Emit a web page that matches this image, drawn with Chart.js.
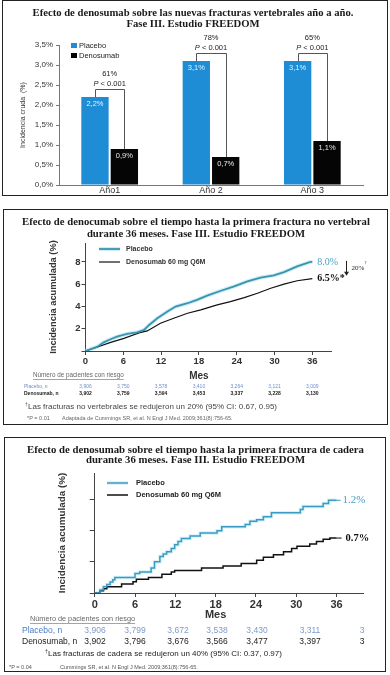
<!DOCTYPE html>
<html>
<head>
<meta charset="utf-8">
<script src="https://cdn.jsdelivr.net/npm/chart.js@4.4.1/dist/chart.umd.min.js"></script>
<style>
  html, body { margin: 0; padding: 0; background: #fff; }
  body { width: 390px; height: 675px; position: relative; overflow: hidden; }
  .panel { position: absolute; border: 1px solid #222; }
  .panel canvas { display: block; }
</style>
</head>
<body>
<div class="panel" style="left:2px; top:0px; width:384px; height:194px;"><canvas id="c1" width="384" height="194"></canvas></div>
<div class="panel" style="left:3px; top:209px; width:383px; height:214px;"><canvas id="c2" width="383" height="214"></canvas></div>
<div class="panel" style="left:4px; top:437px; width:380px; height:233px;"><canvas id="c3" width="380" height="233"></canvas></div>
<script>
// --- panel 1: vertebral fractures per year ---
const yearLabels = ['Año1', 'Año 2', 'Año 3'];
const yearPlacebo = [2.2, 3.1, 3.1];
const yearDenosumab = [0.9, 0.7, 1.1];
const yearReduction = ['61%', '78%', '65%'];
const yearPValue = ['< 0.001', '< 0.001', '< 0.001'];

// --- panel 2: time to first non-vertebral fracture ---
const nvPlaceboMonths = [0, 1.9, 2.9, 3.7, 5.0, 6.6, 8.2, 9.3, 10.1, 11.4, 13.0, 14.3, 16.2, 17.7, 19.3, 21.5, 23.6, 25.7, 27.8, 29.9, 31.5, 33.6, 35.7, 36];
const nvPlaceboValues = [0, 0.39, 0.78, 0.99, 1.29, 1.53, 1.68, 1.89, 2.34, 2.94, 3.54, 3.99, 4.29, 4.59, 4.98, 5.41, 5.8, 6.25, 6.6, 6.79, 7.09, 7.6, 8.0, 8.0];
const nvDenoMonths = [0, 1.9, 4.0, 6.1, 8.8, 9.8, 11.9, 14.0, 16.2, 18.3, 20.9, 23.0, 25.2, 27.3, 29.4, 31.5, 33.6, 36];
const nvDenoValues = [0, 0.36, 0.78, 1.14, 1.68, 1.8, 2.49, 2.94, 3.39, 3.69, 4.14, 4.44, 4.8, 5.19, 5.64, 6.0, 6.31, 6.5];
const nvTableMonths = [0, 6, 12, 18, 24, 30, 36];
const nvTablePlacebo = ['3,906', '3,750', '3,578', '3,410', '3,264', '3,121', '3,009'];
const nvTableDeno = ['3,902', '3,759', '3,594', '3,453', '3,337', '3,228', '3,130'];

// --- panel 3: time to first hip fracture (step curves) ---
const hipPlaceboMonths = [0, 0.4, 0.8, 1.3, 1.8, 2.3, 2.7, 3.0, 6.0, 6.7, 8.4, 8.9, 9.7, 10.2, 10.7, 11.4, 11.9, 12.4, 12.9, 14.2, 15.7, 18.2, 18.9, 22.4, 23.1, 24.1, 25.1, 26.3, 30.6, 31.0, 34.0, 34.8, 36.0];
const hipPlaceboValues = [0, 0, 0.04, 0.08, 0.11, 0.14, 0.17, 0.2, 0.25, 0.27, 0.32, 0.4, 0.47, 0.5, 0.53, 0.57, 0.62, 0.66, 0.7, 0.73, 0.77, 0.8, 0.85, 0.88, 0.92, 0.94, 0.98, 1.03, 1.07, 1.11, 1.15, 1.19, 1.19];
const hipDenoMonths = [0, 0.4, 0.8, 1.3, 1.8, 4.0, 5.7, 6.2, 8.0, 10.0, 11.4, 11.9, 15.9, 19.1, 21.8, 24.1, 25.1, 26.6, 28.1, 29.3, 30.1, 32.0, 33.0, 34.0, 35.0, 36.0];
const hipDenoValues = [0, 0, 0.03, 0.055, 0.08, 0.115, 0.145, 0.175, 0.2, 0.24, 0.27, 0.29, 0.32, 0.345, 0.38, 0.42, 0.46, 0.49, 0.53, 0.57, 0.6, 0.63, 0.66, 0.69, 0.705, 0.705];
const hipTablePlacebo = ['3,906', '3,799', '3,672', '3,538', '3,430', '3,311', '3'];
const hipTableDeno = ['3,902', '3,796', '3,676', '3,566', '3,477', '3,397', '3'];
const hipTableX = [90, 130, 173, 212, 252, 305, 357];

Chart.defaults.font.family = "'Liberation Sans', Arial, sans-serif";
Chart.defaults.color = '#333';

const SANS = "'Liberation Sans', Arial, sans-serif";
const SERIF = "'Liberation Serif', 'Times New Roman', serif";

function toPoints(months, values) {
    return months.map((m, i) => ({ x: m, y: values[i] }));
}

function pct(v) {
    return v.toFixed(1).replace('.', ',') + '%';
}

// size the serif title so line 1 spans the same width as the original
function drawTitle(ctx, lines, cx, y, lineGap, width) {
    ctx.font = 'bold 10px ' + SERIF;
    const size = 10 * width / ctx.measureText(lines[0]).width;
    ctx.font = 'bold ' + size.toFixed(2) + 'px ' + SERIF;
    ctx.fillStyle = '#1a1a1a';
    ctx.textAlign = 'center';
    ctx.textBaseline = 'middle';
    lines.forEach((t, i) => ctx.fillText(t, cx, y + i * lineGap));
}

function underlined(ctx, text, x, y) {
    ctx.fillText(text, x, y);
    const w = ctx.measureText(text).width;
    ctx.beginPath();
    ctx.moveTo(x, y + 4.5);
    ctx.lineTo(x + w, y + 4.5);
    ctx.lineWidth = 0.6;
    ctx.strokeStyle = ctx.fillStyle;
    ctx.stroke();
}

const yearNotes = {
    id: 'yearNotes',
    afterDraw(chart) {
        const ctx = chart.ctx;
        const area = chart.chartArea;
        const pl = chart.getDatasetMeta(0).data;
        const de = chart.getDatasetMeta(1).data;
        ctx.save();
        drawTitle(ctx, ['Efecto de denosumab sobre las nuevas fracturas vertebrales año a año.', 'Fase III. Estudio FREEDOM'], 190, 12, 11, 321);

        // legend
        ctx.textAlign = 'left';
        ctx.font = '7.5px ' + SANS;
        ctx.fillStyle = '#1f8dd6';
        ctx.fillRect(area.left + 12, area.top - 2, 6, 5);
        ctx.fillStyle = '#000';
        ctx.fillRect(area.left + 12, area.top + 8, 6, 5);
        ctx.fillStyle = '#222';
        ctx.fillText('Placebo', area.left + 20, area.top + 0.5);
        ctx.fillText('Denosumab', area.left + 20, area.top + 10.5);

        pl.forEach((bar, i) => {
            const d = de[i];
            ctx.textAlign = 'center';
            ctx.font = '7.5px ' + SANS;
            ctx.fillStyle = '#dff4ff';
            ctx.fillText(pct(yearPlacebo[i]), bar.x, bar.y + 7);
            ctx.fillStyle = '#e8e8e8';
            ctx.fillText(pct(yearDenosumab[i]), d.x, d.y + 7);

            // bracket between the two bars
            const by = Math.round(Math.min(bar.y, d.y) - 8) + 0.5;
            const x0 = Math.round(bar.x) + 0.5;
            const x1 = Math.round(d.x) + 0.5;
            ctx.strokeStyle = '#555';
            ctx.lineWidth = 1;
            ctx.beginPath();
            ctx.moveTo(x0, bar.y);
            ctx.lineTo(x0, by);
            ctx.lineTo(x1, by);
            ctx.lineTo(x1, d.y);
            ctx.stroke();

            const cx = (bar.x + d.x) / 2;
            ctx.fillStyle = '#222';
            ctx.fillText(yearReduction[i], cx, by - 16);
            ctx.font = 'italic 7.5px ' + SANS;
            const wP = ctx.measureText('P ').width;
            ctx.font = '7.5px ' + SANS;
            const wR = ctx.measureText(yearPValue[i]).width;
            const left = cx - (wP + wR) / 2;
            ctx.textAlign = 'left';
            ctx.font = 'italic 7.5px ' + SANS;
            ctx.fillText('P ', left, by - 6);
            ctx.font = '7.5px ' + SANS;
            ctx.fillText(yearPValue[i], left + wP, by - 6);
        });
        ctx.restore();
    }
};

new Chart(document.getElementById('c1'), {
    type: 'bar',
    data: {
        labels: yearLabels,
        datasets: [
            { label: 'Placebo', data: yearPlacebo, backgroundColor: '#1f8dd6', barPercentage: 0.93, categoryPercentage: 0.58 },
            { label: 'Denosumab', data: yearDenosumab, backgroundColor: '#050505', barPercentage: 0.93, categoryPercentage: 0.58 }
        ]
    },
    options: {
        responsive: false,
        animation: false,
        layout: { padding: { left: 0, right: 24, top: 44, bottom: 0 } },
        plugins: { legend: { display: false }, tooltip: { enabled: false } },
        scales: {
            x: {
                grid: { display: false, drawTicks: false },
                border: { color: '#777' },
                ticks: { padding: 1, color: '#333', font: { size: 9, lineHeight: 1 } },
                afterFit: s => { s.height = 10; }
            },
            y: {
                min: 0,
                max: 3.5,
                grid: { drawOnChartArea: false, tickLength: 3, color: '#777' },
                border: { color: '#777' },
                ticks: { stepSize: 0.5, padding: 3, color: '#333', font: { size: 8 }, callback: v => pct(v) },
                title: { display: true, text: 'Incidencia cruda  (%)', color: '#333', font: { size: 7, lineHeight: 1 }, padding: { top: 16.5, bottom: 0 } },
                afterFit: s => { s.width = 56; }
            }
        }
    },
    plugins: [yearNotes]
});

const nvNotes = {
    id: 'nvNotes',
    afterDraw(chart) {
        const ctx = chart.ctx;
        const xs = chart.scales.x;
        const pEnd = chart.getDatasetMeta(1).data.at(-1);
        const dEnd = chart.getDatasetMeta(2).data.at(-1);
        ctx.save();
        drawTitle(ctx, ['Efecto de denocumab sobre el tiempo hasta la primera fractura no vertebral', 'durante 36 meses. Fase III. Estudio FREEDOM'], 192, 12, 12, 348);

        // legend
        ctx.lineCap = 'butt';
        ctx.strokeStyle = '#cdeef5'; ctx.lineWidth = 4;
        ctx.beginPath(); ctx.moveTo(95, 39); ctx.lineTo(116, 39); ctx.stroke();
        ctx.strokeStyle = '#3a93b0'; ctx.lineWidth = 1.8;
        ctx.beginPath(); ctx.moveTo(95, 39); ctx.lineTo(116, 39); ctx.stroke();
        ctx.strokeStyle = '#111'; ctx.lineWidth = 1.2;
        ctx.beginPath(); ctx.moveTo(95, 52); ctx.lineTo(116, 52); ctx.stroke();
        ctx.textAlign = 'left';
        ctx.textBaseline = 'middle';
        ctx.font = 'bold 7px ' + SANS;
        ctx.fillStyle = '#333';
        ctx.fillText('Placebo', 122, 39);
        ctx.fillText('Denosumab 60 mg Q6M', 122, 52);

        // end labels
        ctx.font = '10px ' + SERIF;
        ctx.fillStyle = '#4aa3c4';
        ctx.fillText('8.0%', pEnd.x + 5, pEnd.y);
        ctx.font = 'bold 10px ' + SERIF;
        ctx.fillStyle = '#111';
        ctx.fillText('6.5%*', dEnd.x + 5, dEnd.y);

        // arrow showing the reduction
        const ax = Math.round(pEnd.x + 34) + 0.5;
        ctx.strokeStyle = '#222'; ctx.lineWidth = 1;
        ctx.beginPath(); ctx.moveTo(ax, pEnd.y - 1); ctx.lineTo(ax, dEnd.y - 6); ctx.stroke();
        ctx.beginPath();
        ctx.moveTo(ax - 2.5, dEnd.y - 7); ctx.lineTo(ax + 2.5, dEnd.y - 7); ctx.lineTo(ax, dEnd.y - 3);
        ctx.closePath(); ctx.fillStyle = '#222'; ctx.fill();
        ctx.font = '7px ' + SERIF;
        ctx.fillText('20%', ax + 5, (pEnd.y + dEnd.y) / 2 - 2);
        ctx.font = '5px ' + SERIF;
        ctx.fillText('†', ax + 18, pEnd.y + 1);

        // axis title
        ctx.textAlign = 'center';
        ctx.font = 'bold 10px ' + SANS;
        ctx.fillStyle = '#333';
        ctx.fillText('Mes', xs.getPixelForValue(18), 166);

        // patients at risk
        ctx.textAlign = 'left';
        ctx.font = '6.3px ' + SANS;
        ctx.fillStyle = '#666';
        underlined(ctx, 'Número de pacientes con riesgo', 29, 165);
        ctx.font = '5px ' + SANS;
        ctx.fillStyle = '#6d8fc9';
        ctx.fillText('Placebo, n', 20, 177);
        ctx.font = 'bold 5px ' + SANS;
        ctx.fillStyle = '#222';
        ctx.fillText('Denosumab, n', 20, 184);
        ctx.textAlign = 'center';
        nvTableMonths.forEach((m, i) => {
            const x = xs.getPixelForValue(m);
            ctx.font = '5px ' + SANS;
            ctx.fillStyle = '#6d8fc9';
            ctx.fillText(nvTablePlacebo[i], x, 177);
            ctx.font = 'bold 5px ' + SANS;
            ctx.fillStyle = '#222';
            ctx.fillText(nvTableDeno[i], x, 184);
        });

        // footnotes
        ctx.textAlign = 'left';
        ctx.fillStyle = '#444';
        ctx.font = '5px ' + SANS;
        ctx.fillText('†', 21, 195);
        ctx.font = '8px ' + SANS;
        ctx.fillText('Las fracturas no vertebrales se redujeron un 20% (95% CI: 0.67, 0.95)', 24, 197);
        ctx.font = '5.5px ' + SANS;
        ctx.fillStyle = '#666';
        ctx.fillText('*P = 0.01', 23, 208);
        ctx.fillText('Adaptada de Cummings SR, et al. N Engl J Med. 2009;361(8):756-65.', 58, 208);
        ctx.restore();
    }
};

new Chart(document.getElementById('c2'), {
    type: 'line',
    data: {
        datasets: [
            // light band drawn under the placebo line
            { label: 'halo', data: toPoints(nvPlaceboMonths, nvPlaceboValues), borderColor: '#cdeef5', borderWidth: 4, order: 3 },
            { label: 'Placebo', data: toPoints(nvPlaceboMonths, nvPlaceboValues), borderColor: '#3a93b0', borderWidth: 1.8, order: 1 },
            { label: 'Denosumab 60 mg Q6M', data: toPoints(nvDenoMonths, nvDenoValues), borderColor: '#111', borderWidth: 1.2, order: 2 }
        ]
    },
    options: {
        responsive: false,
        animation: false,
        elements: { point: { radius: 0 }, line: { tension: 0 } },
        layout: { padding: { left: 0, right: 55.8, top: 33, bottom: 42 } },
        plugins: { legend: { display: false }, tooltip: { enabled: false } },
        scales: {
            x: {
                type: 'linear',
                min: 0,
                max: 39,
                grid: { drawOnChartArea: false, tickLength: 4, color: '#444' },
                border: { color: '#444' },
                ticks: { stepSize: 6, includeBounds: false, padding: 1, color: '#333', font: { size: 9.5, weight: 'bold' } },
                afterFit: s => { s.height = 31; }
            },
            y: {
                min: 0,
                max: 9.7,
                grid: { drawOnChartArea: false, tickLength: 4, color: '#444' },
                border: { color: '#444' },
                ticks: { stepSize: 2, includeBounds: false, padding: 1, color: '#333', font: { size: 9.5, weight: 'bold' }, callback: v => v === 0 ? '' : v },
                title: { display: true, text: 'Incidencia acumulada (%)', color: '#333', font: { size: 9.3, weight: 'bold', lineHeight: 1 }, padding: { top: 44.4, bottom: 0 } },
                afterFit: s => { s.width = 81.5; }
            }
        }
    },
    plugins: [nvNotes]
});

const hipNotes = {
    id: 'hipNotes',
    afterDraw(chart) {
        const ctx = chart.ctx;
        const xs = chart.scales.x;
        const pEnd = chart.getDatasetMeta(1).data.at(-1);
        const dEnd = chart.getDatasetMeta(2).data.at(-1);
        ctx.save();
        drawTitle(ctx, ['Efecto de denosumab sobre el tiempo hasta la primera fractura de cadera', 'durante 36 meses. Fase III. Estudio FREEDOM'], 190.5, 12, 10.5, 337);

        // legend
        ctx.strokeStyle = '#d8f1f7'; ctx.lineWidth = 3.5;
        ctx.beginPath(); ctx.moveTo(102, 45); ctx.lineTo(123, 45); ctx.stroke();
        ctx.strokeStyle = '#3a9cc2'; ctx.lineWidth = 1.5;
        ctx.beginPath(); ctx.moveTo(102, 45); ctx.lineTo(123, 45); ctx.stroke();
        ctx.strokeStyle = '#111'; ctx.lineWidth = 1.5;
        ctx.beginPath(); ctx.moveTo(102, 57); ctx.lineTo(123, 57); ctx.stroke();
        ctx.textAlign = 'left';
        ctx.textBaseline = 'middle';
        ctx.font = 'bold 7.5px ' + SANS;
        ctx.fillStyle = '#222';
        ctx.fillText('Placebo', 131, 45);
        ctx.fillText('Denosumab 60 mg Q6M', 131, 57);

        // end labels
        ctx.lineWidth = 1;
        ctx.strokeStyle = '#3a9cc2';
        ctx.beginPath(); ctx.moveTo(pEnd.x, pEnd.y); ctx.lineTo(pEnd.x + 4, pEnd.y); ctx.stroke();
        ctx.strokeStyle = '#111';
        ctx.beginPath(); ctx.moveTo(dEnd.x, dEnd.y); ctx.lineTo(dEnd.x + 5, dEnd.y); ctx.stroke();
        ctx.font = '11px ' + SERIF;
        ctx.fillStyle = '#4aa3c4';
        ctx.fillText('1.2%', pEnd.x + 6, pEnd.y);
        ctx.font = 'bold 10.5px ' + SERIF;
        ctx.fillStyle = '#111';
        ctx.fillText('0.7%', dEnd.x + 9, dEnd.y);

        // axis title
        ctx.textAlign = 'center';
        ctx.font = 'bold 11px ' + SANS;
        ctx.fillStyle = '#333';
        ctx.fillText('Mes', xs.getPixelForValue(18), 177);

        // patients at risk
        ctx.textAlign = 'left';
        ctx.font = '7.3px ' + SANS;
        ctx.fillStyle = '#666';
        underlined(ctx, 'Número de pacientes con riesgo', 25, 181);
        ctx.font = '8.5px ' + SANS;
        ctx.fillStyle = '#4a7cc4';
        ctx.fillText('Placebo, n', 17, 193);
        ctx.fillStyle = '#222';
        ctx.fillText('Denosumab, n', 17, 204);
        ctx.textAlign = 'center';
        hipTableX.forEach((x, i) => {
            ctx.fillStyle = '#7d9bcc';
            ctx.fillText(hipTablePlacebo[i], x, 193);
            ctx.fillStyle = '#222';
            ctx.fillText(hipTableDeno[i], x, 204);
        });

        // footnotes
        ctx.textAlign = 'left';
        ctx.fillStyle = '#222';
        ctx.font = '5.5px ' + SANS;
        ctx.fillText('†', 40, 213);
        ctx.font = '8px ' + SANS;
        ctx.fillText('Las fracturas de cadera se redujeron un 40% (95% CI: 0.37, 0.97)', 43, 216);
        ctx.font = '5.5px ' + SANS;
        ctx.fillStyle = '#555';
        ctx.fillText('*P = 0.04', 4, 229);
        ctx.fillText('Cummings SR, et al. N Engl J Med. 2009;361(8):756-65.', 55, 229);
        ctx.restore();
    }
};

new Chart(document.getElementById('c3'), {
    type: 'line',
    data: {
        datasets: [
            { label: 'halo', data: toPoints(hipPlaceboMonths, hipPlaceboValues), borderColor: '#d8f1f7', borderWidth: 3.5, stepped: 'before', order: 3 },
            { label: 'Placebo', data: toPoints(hipPlaceboMonths, hipPlaceboValues), borderColor: '#3a9cc2', borderWidth: 1.5, stepped: 'before', order: 1 },
            { label: 'Denosumab 60 mg Q6M', data: toPoints(hipDenoMonths, hipDenoValues), borderColor: '#111', borderWidth: 1.5, stepped: 'before', order: 2 }
        ]
    },
    options: {
        responsive: false,
        animation: false,
        elements: { point: { radius: 0 } },
        layout: { padding: { left: 0, right: 21.5, top: 35, bottom: 50 } },
        plugins: { legend: { display: false }, tooltip: { enabled: false } },
        scales: {
            x: {
                type: 'linear',
                min: 0,
                max: 40,
                grid: { drawOnChartArea: false, tickLength: 4, color: '#444' },
                border: { color: '#444' },
                ticks: { stepSize: 6, includeBounds: false, padding: 1, color: '#333', font: { size: 11, weight: 'bold' } },
                afterFit: s => { s.height = 28; }
            },
            y: {
                min: 0,
                max: 1.54,
                grid: { drawOnChartArea: false, tickLength: 5, color: '#444' },
                border: { color: '#444' },
                ticks: { stepSize: 0.4, includeBounds: false, padding: 1, callback: () => '' },
                title: { display: true, text: 'Incidencia acumulada (%)', color: '#333', font: { size: 9.9, weight: 'bold', lineHeight: 1 }, padding: { top: 52.5, bottom: 0 } },
                afterFit: s => { s.width = 89.7; }
            }
        }
    },
    plugins: [hipNotes]
});
</script>
</body>
</html>
